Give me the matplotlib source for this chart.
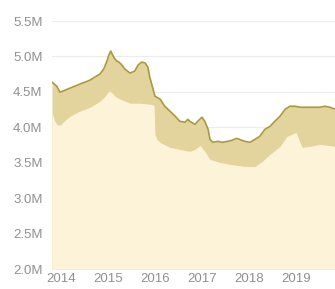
import matplotlib
matplotlib.use("Agg")
import matplotlib.pyplot as plt

plt.rcParams['font.family'] = ['Liberation Sans', 'DejaVu Sans']

# Upper series (millions), decimal years
upper_dates = [2013.81, 2013.91, 2013.98, 2014.09, 2014.19, 2014.30, 2014.40, 2014.51, 2014.62,
               2014.72, 2014.83, 2014.91, 2014.98, 2015.02, 2015.06, 2015.11, 2015.15, 2015.19,
               2015.23, 2015.28, 2015.36, 2015.47, 2015.57, 2015.64, 2015.72, 2015.79, 2015.85,
               2015.89, 2015.96, 2016.00, 2016.11, 2016.21, 2016.32, 2016.43, 2016.53, 2016.64,
               2016.70, 2016.74, 2016.85, 2016.91, 2017.00, 2017.06, 2017.13, 2017.17, 2017.23,
               2017.34, 2017.43, 2017.55, 2017.64, 2017.74, 2017.91, 2018.02, 2018.13, 2018.23,
               2018.34, 2018.45, 2018.55, 2018.66, 2018.77, 2018.87, 2018.98, 2019.09, 2019.30,
               2019.51, 2019.62, 2019.72, 2019.83]
upper_vals = [4.637, 4.581, 4.496, 4.524, 4.552, 4.581, 4.609, 4.637, 4.666,
              4.708, 4.751, 4.822, 4.935, 5.020, 5.076, 5.006, 4.963, 4.935,
              4.921, 4.892, 4.822, 4.765, 4.793, 4.878, 4.921, 4.907, 4.850,
              4.708, 4.538, 4.439, 4.397, 4.297, 4.227, 4.156, 4.085, 4.071,
              4.113, 4.085, 4.042, 4.085, 4.142, 4.085, 3.972, 3.830, 3.788,
              3.802, 3.788, 3.802, 3.816, 3.844, 3.802, 3.788, 3.830, 3.873,
              3.972, 4.014, 4.085, 4.156, 4.255, 4.297, 4.297, 4.283, 4.283,
              4.283, 4.297, 4.283, 4.255]

# Lower series (millions)
lower_dates = [2013.81, 2013.87, 2013.91, 2013.98, 2014.09, 2014.19, 2014.40, 2014.62, 2014.83,
               2014.94, 2015.00, 2015.04, 2015.09, 2015.15, 2015.26, 2015.47, 2015.68, 2015.89,
               2015.98, 2016.00, 2016.04, 2016.11, 2016.32, 2016.53, 2016.74, 2016.85, 2016.96,
               2017.06, 2017.17, 2017.38, 2017.60, 2017.91, 2018.13, 2018.28, 2018.45, 2018.66,
               2018.81, 2018.91, 2019.00, 2019.06, 2019.13, 2019.30, 2019.51, 2019.83]
lower_vals = [4.212, 4.085, 4.042, 4.028, 4.099, 4.156, 4.227, 4.283, 4.368,
              4.439, 4.496, 4.510, 4.482, 4.439, 4.397, 4.340, 4.340, 4.326,
              4.312, 3.901, 3.830, 3.788, 3.717, 3.688, 3.660, 3.688, 3.745,
              3.660, 3.547, 3.504, 3.476, 3.448, 3.448, 3.518, 3.618, 3.731,
              3.873, 3.901, 3.929, 3.830, 3.717, 3.731, 3.759, 3.731]

y_ticks = [2.0, 2.5, 3.0, 3.5, 4.0, 4.5, 5.0, 5.5]
y_labels = ['2.0M', '2.5M', '3.0M', '3.5M', '4.0M', '4.5M', '5.0M', '5.5M']
x_ticks = [2014, 2015, 2016, 2017, 2018, 2019]
x_labels = ['2014', '2015', '2016', '2017', '2018', '2019']

fig = plt.figure(figsize=(3.35, 2.89), dpi=100)
ax = fig.add_axes([52/335, 1 - 269/289, 1 - 52/335, (269 - 21)/289])

base = 2.0
ax.fill_between(upper_dates, base, upper_vals, color='#e2d49c', linewidth=0, zorder=2)
ax.fill_between(lower_dates, base, lower_vals, color='#fdf3d8', linewidth=0, zorder=3)
ax.plot(upper_dates, upper_vals, color='#a99a3c', linewidth=1.2, zorder=4)

ax.set_xlim(upper_dates[0], upper_dates[-1])
ax.set_ylim(2.0, 5.5)
ax.set_yticks(y_ticks)
ax.set_yticklabels(y_labels)
ax.set_xticks(x_ticks)
ax.set_xticklabels(x_labels)

ax.grid(axis='y', color='#ececec', linewidth=0.8, zorder=1)
ax.set_axisbelow(True)
for s in ax.spines.values():
    s.set_visible(False)
ax.tick_params(axis='both', length=0, colors='#909090', labelsize=9.5)
ax.tick_params(axis='y', pad=28)
for lab in ax.get_yticklabels():
    lab.set_horizontalalignment('left')
ax.tick_params(axis='x', pad=3)

fig.savefig('out.png', dpi=100, facecolor='white')
